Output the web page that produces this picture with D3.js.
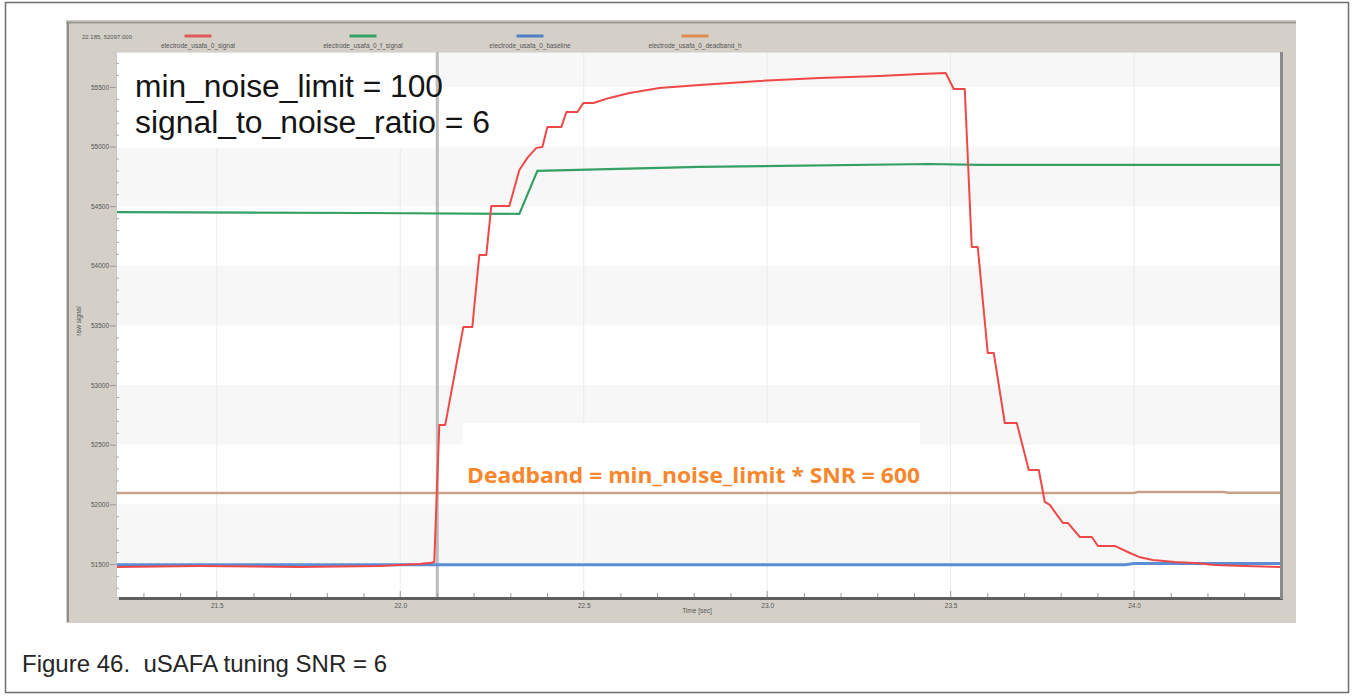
<!DOCTYPE html>
<html>
<head>
<meta charset="utf-8">
<script src="https://cdn.jsdelivr.net/npm/d3@7/dist/d3.min.js"></script>
<style>
  html, body { margin: 0; padding: 0; background: #ffffff; }
  svg { display: block; }
</style>
</head>
<body>
<svg id="chart" width="1354" height="696"></svg>
<script>
// ---------------- data ----------------
const timeTicks = [21.5, 22.0, 22.5, 23.0, 23.5, 24.0];
const valueTicks = [51500, 52000, 52500, 53000, 53500, 54000, 54500, 55000, 55500];
const seriesNames = ["electrode_usafa_0_signal", "electrode_usafa_0_f_signal", "electrode_usafa_0_baseline", "electrode_usafa_0_deadband_h"];

const signalTime = [21.2253, 21.4517, 21.7245, 21.9427, 22.0518, 22.0846, 22.0927, 22.1064, 22.1227, 22.1719, 22.1964, 22.2155, 22.2346, 22.2482, 22.2973, 22.3246, 22.3464, 22.3710, 22.3873, 22.4010, 22.4392, 22.4528, 22.4828, 22.4992, 22.5265, 22.5701, 22.6247, 22.7065, 22.8156, 22.9793, 23.1430, 23.3066, 23.4157, 23.4866, 23.5085, 23.5385, 23.5576, 23.5739, 23.6012, 23.6176, 23.6476, 23.6803, 23.7130, 23.7403, 23.7567, 23.7703, 23.8058, 23.8194, 23.8522, 23.8849, 23.9013, 23.9476, 23.9886, 24.0131, 24.0513, 24.1113, 24.1659, 24.2204, 24.3023, 24.4004];
const signalValue = [51475, 51483, 51475, 51483, 51500, 51510, 51517, 52666, 52666, 53487, 53487, 54091, 54091, 54502, 54502, 54804, 54905, 54989, 54997, 55165, 55165, 55290, 55290, 55366, 55366, 55408, 55450, 55492, 55517, 55550, 55576, 55592, 55609, 55617, 55483, 55483, 54158, 54158, 53269, 53269, 52682, 52682, 52288, 52288, 52020, 51995, 51844, 51844, 51726, 51726, 51651, 51651, 51592, 51559, 51534, 51517, 51508, 51492, 51483, 51475];

const fSignalTime = [21.2253, 21.9000, 22.3246, 22.3737, 22.8156, 23.4430, 23.5794, 24.4004];
const fSignalValue = [54451, 54443, 54436, 54796, 54829, 54854, 54846, 54846];

const baselineTime = [21.2253, 23.9750, 24.0000, 24.4004];
const baselineValue = [51493, 51493, 51503, 51503];

const deadbandTime = [21.2253, 24.0000, 24.0100, 24.2450, 24.2550, 24.4004];
const deadbandValue = [52095, 52095, 52103, 52103, 52097, 52097];

const cursorTime = 22.101;
const cursorLabel = "22.185, 52097.000";
const noteLines = ["min_noise_limit = 100", "signal_to_noise_ratio = 6"];
const deadbandNote = "Deadband = min_noise_limit * SNR = 600";
const caption = "Figure 46.  uSAFA tuning SNR = 6";

// ---------------- layout ----------------
const svg = d3.select("#chart");
const plot = { left: 116, top: 52, right: 1281, bottom: 597 };

const x = d3.scaleLinear().domain([21.2253, 24.4004]).range([plot.left, plot.right]);
const y = d3.scaleLinear().domain([51223, 55793]).range([plot.bottom, plot.top]);

// outer figure frame
svg.append("rect").attr("x", 5.5).attr("y", 2.5).attr("width", 1343).attr("height", 690)
  .attr("fill", "#ffffff").attr("stroke", "#6e6e6e").attr("stroke-width", 1.5);

// screenshot panel
svg.append("rect").attr("x", 66).attr("y", 20).attr("width", 1230).attr("height", 603)
  .attr("fill", "#d4d0c8");
svg.append("line").attr("x1", 66).attr("x2", 1296).attr("y1", 22.5).attr("y2", 22.5)
  .attr("stroke", "#9a9892").attr("stroke-width", 2);
svg.append("line").attr("x1", 68).attr("x2", 68).attr("y1", 22).attr("y2", 622)
  .attr("stroke", "#8f8d88").attr("stroke-width", 2);

// plot background
svg.append("rect").attr("x", plot.left).attr("y", plot.top)
  .attr("width", plot.right - plot.left).attr("height", plot.bottom - plot.top).attr("fill", "#ffffff");

// alternating bands
const bands = [[52000, 51500], [53000, 52500], [54000, 53500], [55000, 54500], [55793, 55500]];
svg.append("g").selectAll("rect").data(bands).join("rect")
  .attr("x", plot.left).attr("width", plot.right - plot.left)
  .attr("y", d => y(d[0])).attr("height", d => y(d[1]) - y(d[0]))
  .attr("fill", "#f7f7f7");

// vertical grid
svg.append("g").selectAll("line").data(timeTicks).join("line")
  .attr("x1", d => x(d)).attr("x2", d => x(d)).attr("y1", plot.top).attr("y2", plot.bottom)
  .attr("stroke", "#ebebeb").attr("stroke-width", 1);

// top border of plot
svg.append("line").attr("x1", plot.left).attr("x2", plot.right).attr("y1", plot.top + 0.5).attr("y2", plot.top + 0.5)
  .attr("stroke", "#e2e2e2");

// white boxes behind annotations
svg.append("rect").attr("x", 117).attr("y", 53).attr("width", 318).attr("height", 95).attr("fill", "#ffffff");
svg.append("rect").attr("x", 463).attr("y", 423).attr("width", 457).attr("height", 65).attr("fill", "#ffffff");

// cursor
svg.append("line").attr("x1", x(cursorTime)).attr("x2", x(cursorTime)).attr("y1", plot.top).attr("y2", plot.bottom)
  .attr("stroke", "#bcbcbc").attr("stroke-width", 3);

// lines
const line = d3.line().x(d => x(d[0])).y(d => y(d[1]));
const zip = (a, b) => a.map((v, i) => [v, b[i]]);

svg.append("path").datum(zip(deadbandTime, deadbandValue)).attr("d", line)
  .attr("fill", "none").attr("stroke", "#c8a286").attr("stroke-width", 2.5);
svg.append("path").datum(zip(baselineTime, baselineValue)).attr("d", line)
  .attr("fill", "none").attr("stroke", "#5c8dd3").attr("stroke-width", 3);
svg.append("path").datum(zip(fSignalTime, fSignalValue)).attr("d", line)
  .attr("fill", "none").attr("stroke", "#35a064").attr("stroke-width", 2.2);
svg.append("path").datum(zip(signalTime, signalValue)).attr("d", line)
  .attr("fill", "none").attr("stroke", "#f04848").attr("stroke-width", 2).attr("stroke-linejoin", "round");

// axes
const tickFont = "'Liberation Sans', Arial, sans-serif";
const yAxis = svg.append("g").attr("transform", `translate(${plot.left},0)`)
  .call(d3.axisLeft(y).tickValues(valueTicks).tickSize(6).tickPadding(1).tickFormat(d3.format("d")));
yAxis.select(".domain").attr("stroke", "#c8c8c8");
yAxis.selectAll(".tick line").attr("stroke", "#999");
yAxis.selectAll("text").attr("font-family", tickFont).attr("font-size", 6.5).attr("fill", "#555");

const yMinor = d3.range(51300, 55800, 100).filter(v => v % 500 !== 0);
const yMinorAxis = svg.append("g").attr("transform", `translate(${plot.left},0)`)
  .call(d3.axisRight(y).tickValues(yMinor).tickSize(3).tickFormat(""));
yMinorAxis.select(".domain").remove();
yMinorAxis.selectAll(".tick line").attr("stroke", "#aaa");

const xMinor = d3.range(21.3, 24.45, 0.1).filter(v => Math.abs(v * 2 - Math.round(v * 2)) > 0.01);
const xMinorAxis = svg.append("g").attr("transform", `translate(0,${plot.bottom})`)
  .call(d3.axisTop(x).tickValues(xMinor).tickSize(4).tickFormat(""));
xMinorAxis.select(".domain").remove();
xMinorAxis.selectAll(".tick line").attr("stroke", "#999");

const xAxis = svg.append("g").attr("transform", `translate(0,${plot.bottom})`)
  .call(d3.axisBottom(x).tickValues(timeTicks).tickSize(0).tickPadding(6).tickFormat(d3.format(".1f")));
xAxis.select(".domain").remove();
xAxis.selectAll("text").attr("font-family", tickFont).attr("font-size", 6.5).attr("fill", "#555");
svg.append("g").selectAll("line").data(timeTicks).join("line")
  .attr("x1", d => x(d)).attr("x2", d => x(d)).attr("y1", plot.bottom - 6).attr("y2", plot.bottom)
  .attr("stroke", "#999");

// axis frame lines
svg.append("line").attr("x1", plot.left + 3).attr("x2", plot.right + 2).attr("y1", plot.bottom + 1.5).attr("y2", plot.bottom + 1.5)
  .attr("stroke", "#5e5e5e").attr("stroke-width", 3);
svg.append("line").attr("x1", plot.right + 0.5).attr("x2", plot.right + 0.5).attr("y1", plot.top).attr("y2", plot.bottom + 2)
  .attr("stroke", "#8a8a8a").attr("stroke-width", 3);

// axis titles
svg.append("text").attr("transform", "translate(81,321) rotate(-90)").attr("text-anchor", "middle")
  .attr("font-family", tickFont).attr("font-size", 6.5).attr("fill", "#555").text("raw signal");
svg.append("text").attr("x", 697).attr("y", 613).attr("text-anchor", "middle")
  .attr("font-family", tickFont).attr("font-size", 6.5).attr("fill", "#555").text("Time [sec]");

// legend
svg.append("text").attr("x", 82).attr("y", 39).attr("font-family", tickFont).attr("font-size", 6)
  .attr("fill", "#555").text(cursorLabel);
const legendColors = ["#e05a5a", "#35a064", "#4f7fc4", "#e08c4e"];
const legendX = [198, 363, 530, 695];
const lg = svg.append("g").selectAll("g").data(seriesNames).join("g")
  .attr("transform", (d, i) => `translate(${legendX[i]},0)`);
lg.append("line").attr("x1", -13.5).attr("x2", 13.5).attr("y1", 36).attr("y2", 36)
  .attr("stroke", (d, i) => legendColors[i]).attr("stroke-width", 3);
lg.append("text").attr("y", 48).attr("text-anchor", "middle").attr("font-family", tickFont)
  .attr("font-size", 6.5).attr("fill", "#555").text(d => d);

// annotations
svg.append("g").selectAll("text").data(noteLines).join("text")
  .attr("x", 135).attr("y", (d, i) => 97 + i * 36)
  .attr("font-family", "'Liberation Sans', Arial, sans-serif").attr("font-size", 31).attr("fill", "#141414")
  .attr("textLength", (d, i) => [308, 355][i]).attr("lengthAdjust", "spacingAndGlyphs")
  .text(d => d);

svg.append("text").attr("x", 467).attr("y", 483)
  .attr("font-family", "'Open Sans', sans-serif").attr("font-weight", 700).attr("font-size", 21)
  .attr("fill", "#f7862c").attr("textLength", 453).attr("lengthAdjust", "spacingAndGlyphs")
  .text(deadbandNote);

// caption
svg.append("text").attr("x", 22).attr("y", 672).style("white-space", "pre")
  .attr("font-family", "'Liberation Sans', Arial, sans-serif").attr("font-size", 24).attr("fill", "#262626")
  .attr("textLength", 365).attr("lengthAdjust", "spacingAndGlyphs")
  .text(caption);
</script>
</body>
</html>
